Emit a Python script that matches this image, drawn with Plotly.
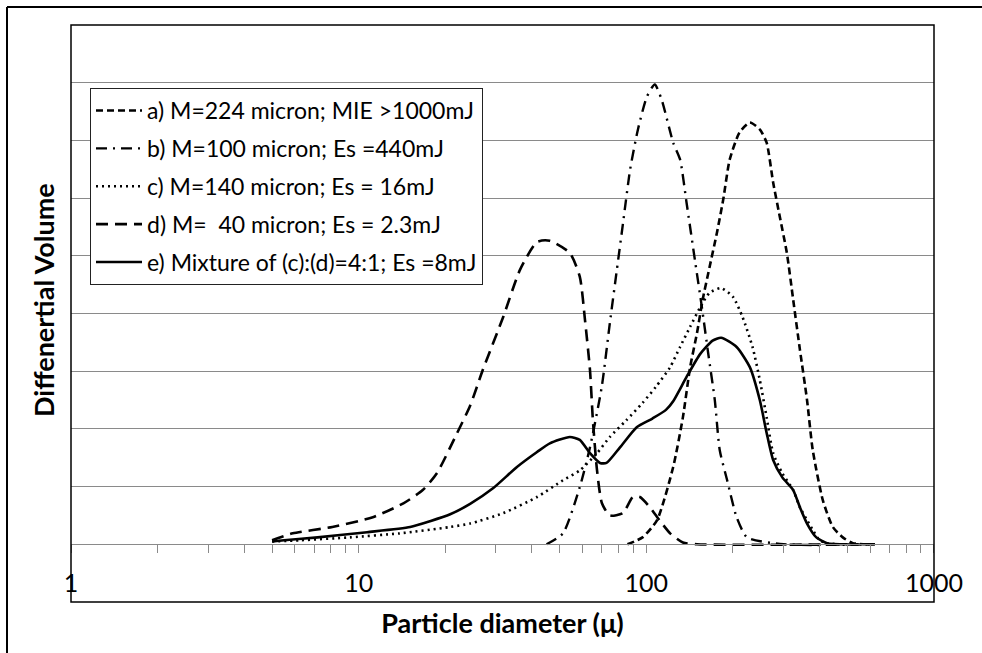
import plotly.graph_objects as go

# ---------------- data ----------------
a_x = [86, 97, 109, 124, 134, 142, 150, 157, 166, 176, 185, 195, 211, 229, 248, 262, 276, 291, 308, 324, 342, 362, 379, 411, 445, 482, 522, 623]
a_y = [0.0, 0.12, 0.42, 1.34, 2.2, 3.07, 3.66, 4.24, 4.81, 5.4, 5.97, 6.67, 7.14, 7.31, 7.19, 6.96, 6.27, 5.68, 5.05, 4.24, 3.37, 2.5, 1.63, 0.76, 0.3, 0.12, 0.02, 0.0]

b_x = [45, 51.3, 58.7, 63.7, 70, 74.7, 79, 83, 87.8, 93.5, 100.5, 107, 113, 124, 131, 138, 148, 156, 164, 173, 180, 191, 206, 224, 300, 623]
b_y = [0.0, 0.19, 0.99, 1.68, 2.73, 3.84, 4.76, 5.57, 6.49, 7.19, 7.76, 7.97, 7.71, 6.96, 6.67, 5.92, 4.88, 4.11, 3.32, 2.5, 1.63, 1.11, 0.47, 0.12, 0.0, 0.0]

c_x = [5, 6.25, 9.3, 13.9, 20.8, 24.4, 31.8, 41.7, 51.3, 58.7, 67.4, 74.7, 85.2, 97, 108, 121, 131, 142, 154, 166, 182, 200, 216, 234, 248, 262, 276, 297, 324, 342, 362, 380, 400, 425, 460]
c_y = [0.05, 0.07, 0.12, 0.19, 0.3, 0.36, 0.54, 0.82, 1.11, 1.28, 1.58, 1.86, 2.15, 2.45, 2.73, 3.07, 3.42, 3.77, 4.11, 4.36, 4.44, 4.29, 3.94, 3.42, 2.85, 2.2, 1.58, 1.23, 0.94, 0.64, 0.42, 0.24, 0.07, 0.02, 0.0]

d_x = [5, 5.9, 8.1, 11.2, 14.3, 16.7, 18.7, 22, 24.4, 27, 31.8, 36.4, 41.7, 46.2, 54.2, 58.7, 61.2, 63.7, 65.2, 67.4, 70.1, 74.7, 82.9, 89.8, 95, 103, 111, 121, 134, 150, 623]
d_y = [0.07, 0.19, 0.3, 0.47, 0.71, 0.94, 1.23, 1.93, 2.4, 3.02, 3.94, 4.76, 5.24, 5.26, 5.05, 4.64, 3.89, 3.02, 2.15, 1.28, 0.71, 0.5, 0.54, 0.82, 0.82, 0.64, 0.42, 0.19, 0.03, 0.0, 0.0]

e_x = [5, 5.5, 7.2, 10.7, 15.1, 17.7, 20.8, 24.4, 29.3, 35.5, 41.7, 46.2, 54.2, 58.7, 63.7, 69, 72.7, 81, 92.6, 105, 117, 124, 138, 154, 170, 182, 206, 229, 248, 262, 276, 297, 324, 342, 362, 390, 425, 500]
e_y = [0.05, 0.07, 0.12, 0.21, 0.3, 0.4, 0.52, 0.7, 0.97, 1.34, 1.6, 1.75, 1.86, 1.81, 1.58, 1.41, 1.41, 1.68, 2.03, 2.18, 2.33, 2.48, 2.9, 3.3, 3.53, 3.58, 3.42, 3.07, 2.5, 1.93, 1.46, 1.16, 0.94, 0.64, 0.36, 0.12, 0.02, 0.0]

names = [
    "a) M=224 micron; MIE >1000mJ",
    "b) M=100 micron; Es =440mJ",
    "c) M=140 micron; Es = 16mJ",
    "d) M=  40 micron; Es = 2.3mJ",
    "e) Mixture of (c):(d)=4:1; Es =8mJ",
]

x_tick_vals = [m * 10 ** k for k in range(3) for m in range(1, 10)] + [1000]
x_tick_text = [str(v) if v in (1, 10, 100, 1000) else "" for v in x_tick_vals]

x_title = "Particle diameter (\u03bc)"
y_title = "Diffenertial Volume"

# ---------------- styling ----------------
FONT = "Lato, 'Open Sans', sans-serif"
W, H = 982, 653
L, R, T, B = 71, 48, 25, 51
GRID = "#8a8a8a"

series = [
    (a_x, a_y, "7px,4px", 2.6),
    (b_x, b_y, "11px,6px,2px,6px", 2.4),
    (c_x, c_y, "2px,4px", 2.6),
    (d_x, d_y, "12px,7px", 2.6),
    (e_x, e_y, "solid", 2.6),
]

fig = go.Figure()
for i, ((xs, ys, dash, w), nm) in enumerate(zip(series, names)):
    fig.add_trace(go.Scatter(
        x=xs, y=ys, mode="lines", name=nm, legendgroup=f"g{i}",
        line=dict(color="black", width=w, dash=dash, shape="spline", smoothing=0.6),
    ))

pw = W - L - R
ph = H - T - B


def px2paper_x(px):
    return (px - L) / pw


def px2paper_y(py):
    return (H - B - py) / ph


fig.update_layout(
    width=W, height=H,
    margin=dict(l=L, r=R, t=T, b=B, autoexpand=False),
    paper_bgcolor="white", plot_bgcolor="white",
    font=dict(family=FONT, color="black"),
    showlegend=True,
    legend=dict(
        x=px2paper_x(90), y=px2paper_y(88), xanchor="left", yanchor="top",
        bgcolor="white", bordercolor="#222222", borderwidth=1,
        font=dict(family=FONT, size=23, color="black"),
        tracegroupgap=5, traceorder="grouped", itemwidth=46,
    ),
    xaxis=dict(
        type="log", range=[-0.0001, 3.0001],
        anchor="free", position=0.1,
        showgrid=False, zeroline=False,
        showline=True, linecolor=GRID, linewidth=1,
        ticks="outside", ticklen=8, tickcolor=GRID, tickwidth=1,
        tickmode="array", tickvals=x_tick_vals, ticktext=x_tick_text,
        tickfont=dict(family=FONT, size=25, color="black"),
        ticklabelstandoff=9,
        title=dict(text="<b>" + x_title + "</b>", font=dict(family=FONT, size=27, color="black"), standoff=17),
        automargin=False,
    ),
    yaxis=dict(
        range=[-1, 9], dtick=1, tick0=0,
        showgrid=True, gridcolor=GRID, gridwidth=1,
        zeroline=False, showline=False, showticklabels=False, ticks="",
        automargin=False,
    ),
)

# y-axis title placed where the reference has it
fig.add_annotation(
    text="<b>" + y_title + "</b>", textangle=-90, showarrow=False,
    xref="paper", yref="paper", x=px2paper_x(43), y=px2paper_y(300),
    xanchor="center", yanchor="middle",
    font=dict(family=FONT, size=27, color="black"),
)

# plot-area frame
fig.add_shape(type="rect", xref="x domain", yref="y domain", x0=0, x1=1, y0=0, y1=1,
              line=dict(color="black", width=1.5), layer="above")
# outer chart border (left and top edges visible in the reference)
fig.add_shape(type="line", xref="paper", yref="paper",
              x0=px2paper_x(7), x1=px2paper_x(7), y0=px2paper_y(7), y1=px2paper_y(660),
              line=dict(color="black", width=2))
fig.add_shape(type="line", xref="paper", yref="paper",
              x0=px2paper_x(7), x1=px2paper_x(990), y0=px2paper_y(7), y1=px2paper_y(7),
              line=dict(color="black", width=2))

fig.write_html("out.html")
